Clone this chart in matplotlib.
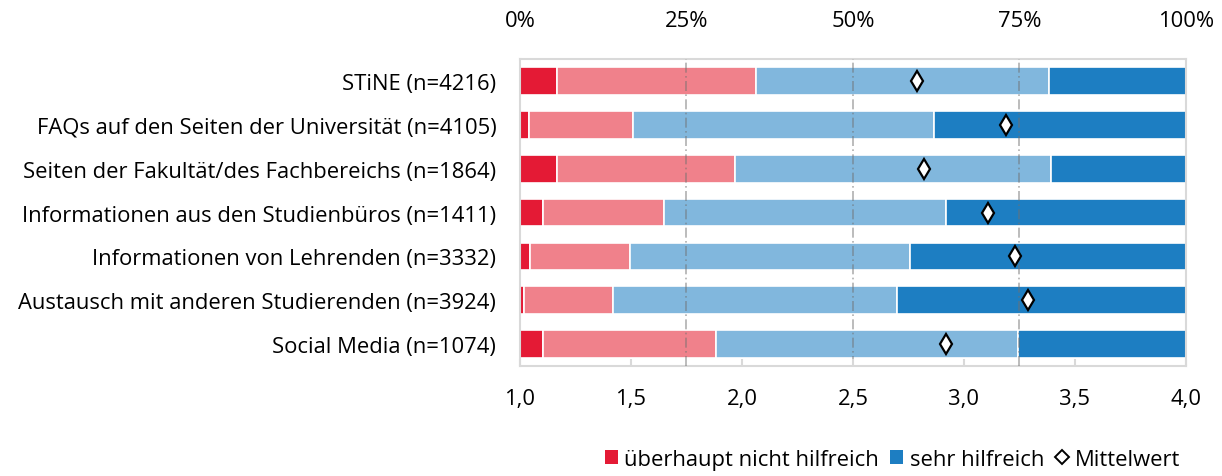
import matplotlib
matplotlib.use("Agg")
import matplotlib.pyplot as plt
from matplotlib.patches import Patch
from matplotlib.lines import Line2D

plt.rcParams['font.family'] = ['Open Sans', 'DejaVu Sans']

categories = [
    "STiNE (n=4216)",
    "FAQs auf den Seiten der Universität (n=4105)",
    "Seiten der Fakultät/des Fachbereichs (n=1864)",
    "Informationen aus den Studienbüros (n=1411)",
    "Informationen von Lehrenden (n=3332)",
    "Austausch mit anderen Studierenden (n=3924)",
    "Social Media (n=1074)",
]
seg1 = [5.6, 1.4, 5.6, 3.5, 1.5, 0.6, 3.4]      # überhaupt nicht hilfreich
seg2 = [29.8, 15.5, 26.7, 18.1, 15.0, 13.3, 26.0]
seg3 = [44.0, 45.3, 47.5, 42.4, 42.0, 42.7, 45.4]
seg4 = [20.6, 37.8, 20.2, 36.0, 41.5, 43.4, 25.2]  # sehr hilfreich
means = [2.79, 3.19, 2.82, 3.11, 3.23, 3.29, 2.92]

pct_ticks = [0, 25, 50, 75, 100]
pct_labels = ["0%", "25%", "50%", "75%", "100%"]
scale_ticks = [1.0, 1.5, 2.0, 2.5, 3.0, 3.5, 4.0]
scale_labels = ["1,0", "1,5", "2,0", "2,5", "3,0", "3,5", "4,0"]

colors = ["#E41A35", "#F0818B", "#81B7DD", "#1D7EC2"]
FS = 15.8

fig = plt.figure(figsize=(12.22, 4.77), dpi=100)
ax = fig.add_axes([0.4255, 0.2306, 0.545, 0.6434])

y = list(range(len(categories)))
left = [0] * len(categories)
for vals, c in zip([seg1, seg2, seg3, seg4], colors):
    ax.barh(y, vals, left=left, height=0.63, color=c, edgecolor="white", linewidth=1.2, zorder=2)
    left = [l + v for l, v in zip(left, vals)]

ax.set_xlim(0, 100)
ax.set_ylim(len(categories) - 0.5, -0.5)
ax.set_yticks(y)
ax.set_yticklabels(categories, fontsize=FS)
ax.tick_params(axis='y', length=0, pad=17)

for g in [25, 50, 75]:
    ax.axvline(g, color="#707070", alpha=0.55, lw=1.2, ls=(0, (6, 2, 1, 2)), zorder=3)

for s in ax.spines.values():
    s.set_color("#D9D9D9")
    s.set_linewidth(1.5)

ax2 = ax.twiny()
ax2.set_xlim(1, 4)
ax2.set_ylim(len(categories) - 0.5, -0.5)
for s in ax2.spines.values():
    s.set_visible(False)
ax2.plot(means, y, linestyle='none', marker='d', markersize=10.5, markerfacecolor='white',
         markeredgecolor='black', markeredgewidth=1.6, zorder=5)

# percentage axis on top
ax.xaxis.set_ticks_position('top')
ax.xaxis.set_label_position('top')
ax.set_xticks(pct_ticks)
ax.set_xticklabels(pct_labels, fontsize=FS)
ax.tick_params(axis='x', which='both', top=True, bottom=False, labeltop=True, labelbottom=False,
               length=0, pad=20)

# scale axis on bottom
ax2.set_xticks(scale_ticks)
ax2.set_xticklabels(scale_labels, fontsize=FS)
ax2.tick_params(axis='x', which='both', top=False, bottom=True, labeltop=False, labelbottom=True,
                direction='in', length=5, width=1.5, color="#D9D9D9", pad=16)

handles = [
    Patch(facecolor=colors[0], edgecolor='none', label="überhaupt nicht hilfreich"),
    Patch(facecolor=colors[3], edgecolor='none', label="sehr hilfreich"),
    Line2D([], [], linestyle='none', marker='D', markersize=7, markerfacecolor='white',
           markeredgecolor='black', markeredgewidth=1.4, label="Mittelwert"),
]
fig.legend(handles=handles, loc='lower right', bbox_to_anchor=(0.982, -0.028), ncol=3,
           frameon=False, fontsize=FS, handlelength=0.6, handleheight=0.6,
           handletextpad=0.3, columnspacing=0.5)

fig.savefig("out.png", dpi=100)
